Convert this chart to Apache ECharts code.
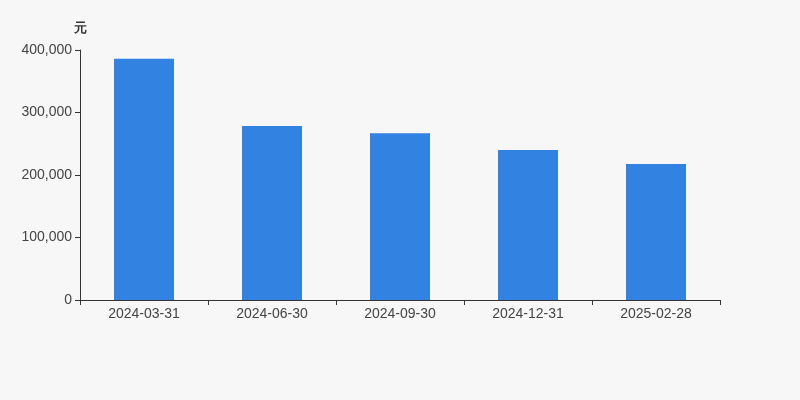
<!DOCTYPE html>
<html>
<head>
<meta charset="utf-8">
<script src="https://cdn.jsdelivr.net/npm/echarts@6/dist/echarts.min.js"></script>
<style>
  * { margin: 0; padding: 0; }
  body { background: #f7f7f7; }
</style>
</head>
<body>
<div id="main" style="width: 800px;height: 400px;"></div>
<script>
  var categories = ['2024-03-31', '2024-06-30', '2024-09-30', '2024-12-31', '2025-02-28'];
  var values = [386000, 278400, 267000, 240000, 217500];
  var yTicks = [0, 100000, 200000, 300000, 400000];

  var chart = echarts.init(document.getElementById('main'));
  chart.setOption({
    backgroundColor: '#f7f7f7',
    textStyle: { fontFamily: 'Liberation Sans, Arial, sans-serif' },
    grid: { left: 80, right: 80, top: 50, bottom: 100 },
    xAxis: {
      type: 'category',
      data: categories,
      axisLine: { lineStyle: { color: '#333' } },
      axisTick: { show: true, alignWithLabel: false, lineStyle: { color: '#333' } },
      axisLabel: { color: '#444', fontSize: 14, margin: 7 }
    },
    yAxis: {
      type: 'value',
      name: '元',
      nameGap: 15,
      nameTextStyle: { color: '#333', fontSize: 13, fontWeight: 'bold', align: 'center' },
      min: yTicks[0],
      max: yTicks[yTicks.length - 1],
      interval: 100000,
      axisLine: { show: true, lineStyle: { color: '#333' } },
      axisTick: { show: true, lineStyle: { color: '#333' } },
      splitLine: { show: false },
      axisLabel: {
        color: '#444',
        fontSize: 14,
        margin: 8,
        formatter: function (v) { return v.toLocaleString('en-US'); }
      }
    },
    series: [{
      type: 'bar',
      data: values,
      barWidth: 60,
      itemStyle: { color: '#3282e2' }
    }]
  });
</script>
</body>
</html>
